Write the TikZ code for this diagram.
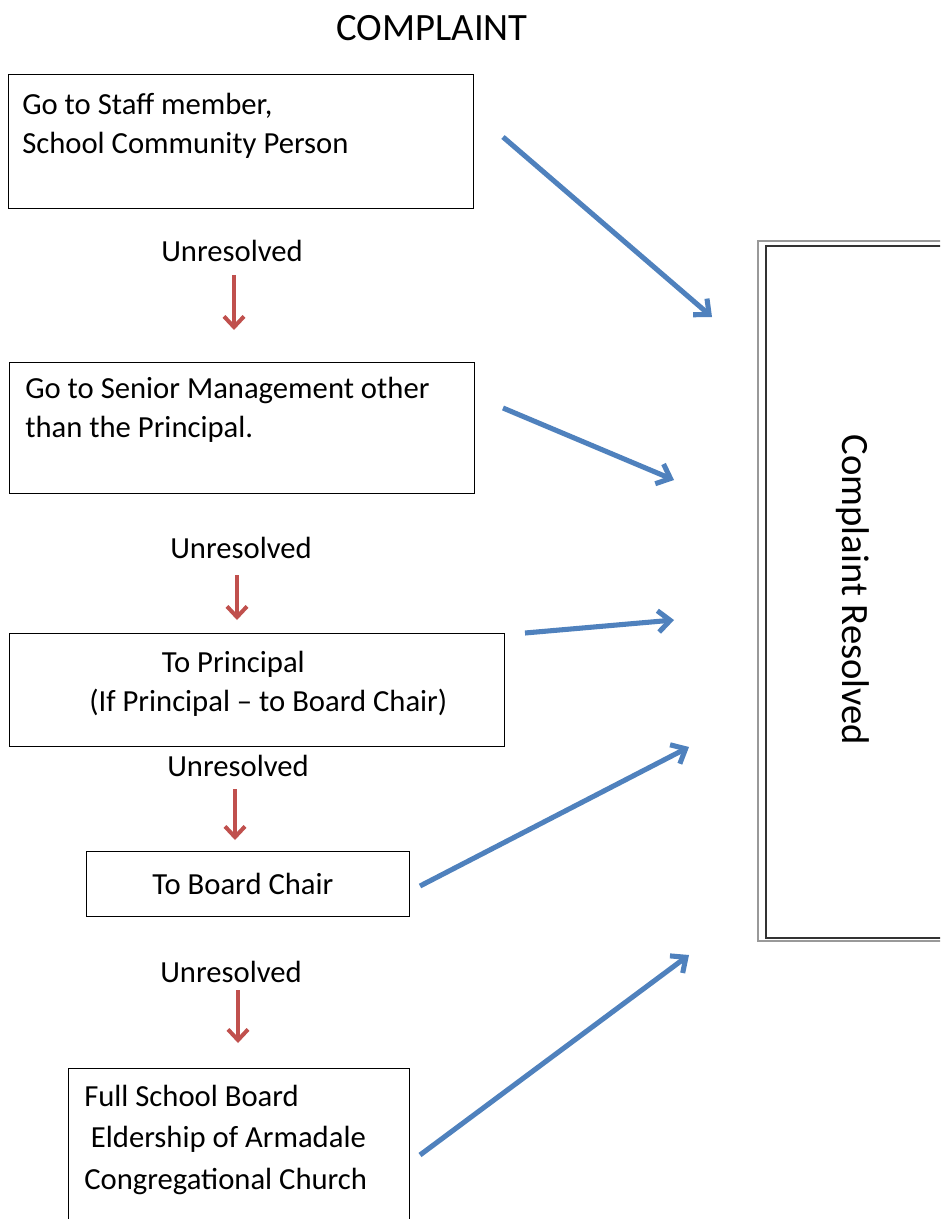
\documentclass[tikz,border=0pt]{standalone}
\usepackage{fontspec}
\setmainfont{Carlito}
\usepackage{xcolor}
\usetikzlibrary{arrows.meta,positioning}

\definecolor{stepblue}{HTML}{4F81BD}
\definecolor{stepred}{HTML}{C0504D}
\newcommand{\px}{0.75pt}

\tikzset{
  stepbox/.style      = {draw, line width=1.1pt, rectangle, anchor=north west, inner sep=0pt},
  steptext/.style     = {anchor=north west, inner sep=0pt, align=left,
                         font=\fontsize{23}{29.5}\selectfont},
  unresolved/.style   = {inner sep=0pt, font=\fontsize{23}{28}\selectfont},
  downarrow/.style    = {-{Straight Barb[length=8pt,width=15pt]}, line width=3pt, stepred},
  resolvearrow/.style = {-{Straight Barb[length=9pt,width=16pt]}, line width=3.8pt, stepblue}
}

\begin{document}
\begin{tikzpicture}[x=\px, y=-\px]
  \useasboundingbox (0,0) rectangle (940,1219);
  \clip (0,0) rectangle (940,1219);

% title
\node[font=\fontsize{29}{34}\selectfont] (title) at (432,28) {COMPLAINT};

% step 1
\node[stepbox, minimum width=465*\px, minimum height=134*\px] (staff) at (8,74) {};
\node[steptext] (stafftext) at (22,93)
    {Go to Staff member,\\School Community Person};

% step 2
\node[stepbox, minimum width=465*\px, minimum height=131*\px] (senior) at (9,362) {};
\node[steptext] (seniortext) at (25,377)
    {Go to Senior Management other\\than the Principal.};

% step 3
\node[stepbox, minimum width=495*\px, minimum height=113*\px] (principal) at (9,633) {};
\node[steptext] (principaltext) at (89,651)
    {\hspace*{54.5pt}To Principal\\(If Principal – to Board Chair)};

% step 4
\node[stepbox, minimum width=323*\px, minimum height=65*\px,
      font=\fontsize{23}{28}\selectfont] (chair) at (86,851) {To Board Chair\hspace*{8pt}};

% step 5
\node[stepbox, minimum width=341*\px, minimum height=200*\px] (board) at (68,1068) {};
\node[steptext, font=\fontsize{23}{31}\selectfont] (boardtext) at (84,1085)
    {Full School Board\\\hspace*{5pt}Eldership of Armadale\\Congregational Church};

% outcome
\node[stepbox, draw=black!40, line width=1.2pt, minimum width=192*\px,
      minimum height=700*\px] (resolved) at (757,240) {};
\node[stepbox, draw=black!80, line width=1.5pt, minimum width=184*\px,
      minimum height=692*\px] (resolvedinner) at (765,245) {};
\node[rotate=-90, inner sep=0pt, font=\fontsize{29}{34}\selectfont]
    (resolvedtext) at (853,590) {Complaint Resolved};

% unresolved labels
\node[unresolved] (unres1) at (232,251) {Unresolved};
\node[unresolved] (unres2) at (241,548) {Unresolved};
\node[unresolved] (unres3) at (238,766) {Unresolved};
\node[unresolved] (unres4) at (231,972) {Unresolved};

% red arrows
\coordinate (u1) at (234,275);  \coordinate (d1) at (234,330);
\coordinate (u2) at (237,575);  \coordinate (d2) at (237,620);
\coordinate (u3) at (235,789);  \coordinate (d3) at (235,840);
\coordinate (u4) at (238,990);  \coordinate (d4) at (238,1043);
\draw[downarrow] (u1) -- (d1);
\draw[downarrow] (u2) -- (d2);
\draw[downarrow] (u3) -- (d3);
\draw[downarrow] (u4) -- (d4);

% blue arrows
\coordinate (s1) at (503,137);  \coordinate (e1) at (712,317);
\coordinate (s2) at (503,408);  \coordinate (e2) at (674,480);
\coordinate (s3) at (525,633);  \coordinate (e3) at (674,620);
\coordinate (s4) at (420,886);  \coordinate (e4) at (689,747);
\coordinate (s5) at (420,1155); \coordinate (e5) at (689,955);
\draw[resolvearrow] (s1) -- (e1);
\draw[resolvearrow] (s2) -- (e2);
\draw[resolvearrow] (s3) -- (e3);
\draw[resolvearrow] (s4) -- (e4);
\draw[resolvearrow] (s5) -- (e5);
\end{tikzpicture}
\end{document}
